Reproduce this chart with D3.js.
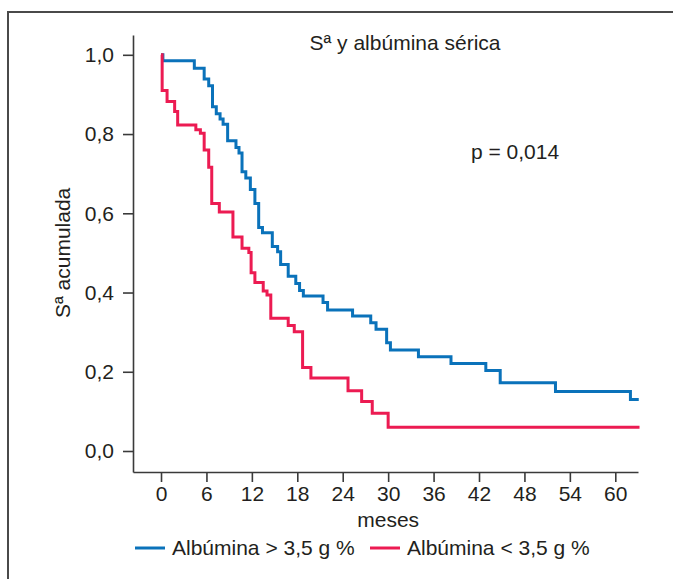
<!DOCTYPE html>
<html>
<head>
<meta charset="utf-8">
<script src="https://cdn.jsdelivr.net/npm/d3@7"></script>
<style>
  html, body { margin: 0; padding: 0; background: #fff; }
  svg { display: block; font-family: "Liberation Sans", Arial, Helvetica, sans-serif; }
</style>
</head>
<body>
<svg id="chart" width="673" height="579"></svg>
<script>
// ---- data ----
const title = "Sª y albúmina sérica";
const yLabel = "Sª acumulada";
const xLabel = "meses";
const pText = "p = 0,014";
const seriesNames = ["Albúmina > 3,5 g %", "Albúmina < 3,5 g %"];
const xTicks = [0, 6, 12, 18, 24, 30, 36, 42, 48, 54, 60];
const yTicks = [0, 0.2, 0.4, 0.6, 0.8, 1.0];

const blueTimes = [0, 0.25, 4.4, 5.7, 6.3, 6.8, 7.3, 7.8, 8.2, 8.8, 9.9, 10.3, 10.7, 11.2, 11.8, 12.4, 12.9, 13.4, 14.7, 15.4, 15.8, 16.8, 17.8, 18.3, 18.8, 21.4, 22.0, 25.3, 27.7, 28.4, 29.8, 30.3, 34.0, 38.3, 42.9, 44.8, 52.1, 62.0, 63.1];
const blueSurv  = [1.0, 0.985, 0.966, 0.939, 0.922, 0.869, 0.851, 0.838, 0.825, 0.783, 0.766, 0.752, 0.705, 0.689, 0.660, 0.625, 0.564, 0.551, 0.516, 0.503, 0.471, 0.441, 0.423, 0.405, 0.391, 0.375, 0.356, 0.341, 0.324, 0.307, 0.273, 0.255, 0.238, 0.221, 0.203, 0.172, 0.150, 0.130, 0.130];

const redTimes = [0, 0.15, 0.8, 1.8, 2.2, 4.6, 5.2, 5.7, 6.3, 6.7, 7.7, 9.5, 10.7, 11.6, 11.9, 12.4, 13.5, 14.0, 14.5, 16.8, 17.6, 18.7, 19.8, 24.7, 26.5, 27.9, 30.0, 63.2];
const redSurv  = [1.0, 0.910, 0.882, 0.857, 0.823, 0.811, 0.802, 0.760, 0.716, 0.625, 0.603, 0.540, 0.512, 0.501, 0.450, 0.425, 0.404, 0.394, 0.335, 0.317, 0.301, 0.211, 0.184, 0.152, 0.125, 0.095, 0.060, 0.060];

const colors = ["#0a72ba", "#ec1b52"];

// ---- drawing ----
const svg = d3.select("#chart");
const axisColor = "#3a3a3a";
const fs = 21;

// frame
svg.append("path")
  .attr("d", d3.line()([[8, 579], [8, 12], [673, 12]]))
  .attr("fill", "none").attr("stroke", "#4a4a4a").attr("stroke-width", 2);

const x = d3.scaleLinear().domain([-3.7, 63]).range([133, 638]);
const y = d3.scaleLinear().domain([-0.053, 1.05]).range([472, 35]);

const fmt = d => d.toFixed(1).replace(".", ",");

const gy = svg.append("g").attr("transform", `translate(${x.range()[0]},0)`)
  .call(d3.axisLeft(y).tickValues(yTicks).tickFormat(fmt).tickSize(10).tickSizeOuter(0).tickPadding(9));
const gx = svg.append("g").attr("transform", `translate(0,${y.range()[0]})`)
  .call(d3.axisBottom(x).tickValues(xTicks).tickSize(10).tickSizeOuter(0).tickPadding(4));

[gx, gy].forEach(g => {
  g.select(".domain").attr("stroke", axisColor).attr("stroke-width", 1.6);
  g.selectAll(".tick line").attr("stroke", axisColor).attr("stroke-width", 1.6);
  g.selectAll(".tick text").attr("fill", "#231f20").attr("font-size", fs)
    .attr("font-family", "Liberation Sans, Arial, sans-serif");
});

// curves
const line = d3.line().x(d => x(d[0])).y(d => y(d[1])).curve(d3.curveStepAfter);
const blue = blueTimes.map((t, i) => [t, blueSurv[i]]);
const red = redTimes.map((t, i) => [t, redSurv[i]]);

svg.append("path").datum(blue).attr("d", line)
  .attr("fill", "none").attr("stroke", colors[0]).attr("stroke-width", 3).attr("stroke-linejoin", "miter");
svg.append("path").datum(red).attr("d", line)
  .attr("fill", "none").attr("stroke", colors[1]).attr("stroke-width", 3).attr("stroke-linejoin", "miter");

// texts
const textColor = "#231f20";
svg.append("text").attr("x", 405).attr("y", 50).attr("text-anchor", "middle")
  .attr("font-size", fs).attr("fill", textColor).text(title);
svg.append("text").attr("x", 515).attr("y", 159).attr("text-anchor", "middle")
  .attr("font-size", fs).attr("fill", textColor).text(pText);
svg.append("text").attr("transform", `translate(70,${(y(0) + y(1)) / 2}) rotate(-90)`)
  .attr("text-anchor", "middle").attr("font-size", fs).attr("fill", textColor).text(yLabel);
svg.append("text").attr("x", (x(0) + x(60)) / 2).attr("y", 527).attr("text-anchor", "middle")
  .attr("font-size", fs).attr("fill", textColor).text(xLabel);

// legend
const legendItems = [
  { x0: 135, name: seriesNames[0], color: colors[0] },
  { x0: 370, name: seriesNames[1], color: colors[1] }
];
const lg = svg.append("g");
legendItems.forEach(it => {
  lg.append("line").attr("x1", it.x0).attr("x2", it.x0 + 30).attr("y1", 548).attr("y2", 548)
    .attr("stroke", it.color).attr("stroke-width", 3);
  lg.append("text").attr("x", it.x0 + 37).attr("y", 555).attr("font-size", fs)
    .attr("fill", textColor).text(it.name);
});
</script>
</body>
</html>
